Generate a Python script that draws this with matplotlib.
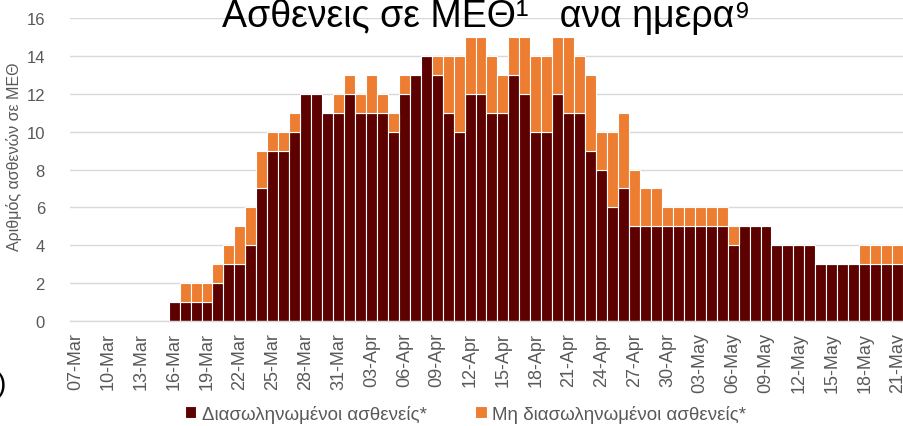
import matplotlib
matplotlib.use("Agg")
import matplotlib.pyplot as plt
from matplotlib import font_manager
import numpy as np
import pandas as pd

plt.rcParams["font.family"] = ["Liberation Sans", "DejaVu Sans"]

# ημερομηνίες 07-Mar .. 21-May
dates = pd.date_range("2020-03-07", "2020-05-21", freq="D")

# διασωληνωμένοι ασθενείς ανά ημέρα
intubated = [
    0, 0, 0, 0, 0, 0, 0, 0, 0,               # 07-15 Mar
    1, 1, 1, 1, 2, 3, 3, 4, 7, 9, 9, 10,     # 16-27 Mar
    12, 12, 11, 11,                          # 28-31 Mar
    12, 11, 11, 11, 10, 12, 13, 14, 13, 11,  # 01-10 Apr
    10, 12, 12, 11, 11, 13, 12, 10, 10, 12,  # 11-20 Apr
    11, 11, 9, 8, 6, 7, 5, 5, 5, 5,          # 21-30 Apr
    5, 5, 5, 5, 5, 4, 5, 5, 5, 4,            # 01-10 May
    4, 4, 4, 3, 3, 3, 3, 3, 3, 3, 3,         # 11-21 May
]

# σύνολο ασθενών σε ΜΕΘ ανά ημέρα
total = [
    0, 0, 0, 0, 0, 0, 0, 0, 0,
    1, 2, 2, 2, 3, 4, 5, 6, 9, 10, 10, 11,
    12, 12, 11, 12,
    13, 12, 13, 12, 11, 13, 13, 14, 14, 14,
    14, 15, 15, 14, 13, 15, 15, 14, 14, 15,
    15, 14, 13, 10, 10, 11, 8, 7, 7, 6,
    6, 6, 6, 6, 6, 5, 5, 5, 5, 4,
    4, 4, 4, 3, 3, 3, 3, 4, 4, 4, 4,
]

not_intubated = [t - i for t, i in zip(total, intubated)]

labels = [d.strftime("%d-%b") for d in dates]
x = np.arange(len(dates))

# στενή γραμματοσειρά για τον τίτλο, αν υπάρχει
installed = {f.name for f in font_manager.fontManager.ttflist}
if "Liberation Sans Narrow" in installed:
    title_family, title_size = ["Liberation Sans Narrow", "DejaVu Sans"], 32
else:
    title_family, title_size = ["Liberation Sans", "DejaVu Sans"], 27

fig = plt.figure(figsize=(9.04, 4.27), dpi=100)
ax = fig.add_axes([0.0774, 0.2459, 0.9215, 0.7096])

dark = "#5C0000"
orange = "#ED7D31"
b1 = ax.bar(x, intubated, width=1.0, color=dark, edgecolor="white",
            linewidth=0.8, label="Διασωληνωμένοι ασθενείς*", zorder=2)
b2 = ax.bar(x, not_intubated, bottom=intubated, width=1.0, color=orange,
            edgecolor="white", linewidth=0.8,
            label="Μη διασωληνωμένοι ασθενείς*", zorder=2)

ax.set_xlim(-0.5, len(dates) - 0.5)
ax.set_ylim(0, 16)
ax.set_yticks(range(0, 17, 2))
ax.set_xticks(x[::3])
ax.set_xticklabels(labels[::3], rotation=90, fontsize=13, color="#595959")
ax.tick_params(axis="y", labelsize=12, labelcolor="#595959", length=0, pad=18)
ax.tick_params(axis="x", length=0, pad=8)

ax.grid(axis="y", color="#D9D9D9", linewidth=1.0, zorder=0)
ax.set_axisbelow(True)
for s in ["top", "right", "left"]:
    ax.spines[s].set_visible(False)
ax.spines["bottom"].set_color("#D9D9D9")
ax.spines["bottom"].set_linewidth(1.0)

ax.set_ylabel("Αριθμός ασθενών σε ΜΕΘ", fontsize=11.5, color="#595959")
ax.yaxis.set_label_coords(-0.058, 0.545)

fig.text(0.538, 0.937, "Ασθενεις σε ΜΕΘ¹   ανα ημερα⁹", fontsize=title_size,
         family=title_family, ha="center", va="baseline", color="black")

fig.legend(handles=[b1, b2], loc="center", bbox_to_anchor=(0.515, 0.028),
           ncol=2, frameon=False, fontsize=13.5, handlelength=0.6,
           handleheight=0.6, handletextpad=0.3, columnspacing=2.6,
           labelcolor="#595959")

fig.text(-0.004, 0.098, ")", fontsize=20, color="black", va="center")

fig.savefig("out.png", dpi=100)
